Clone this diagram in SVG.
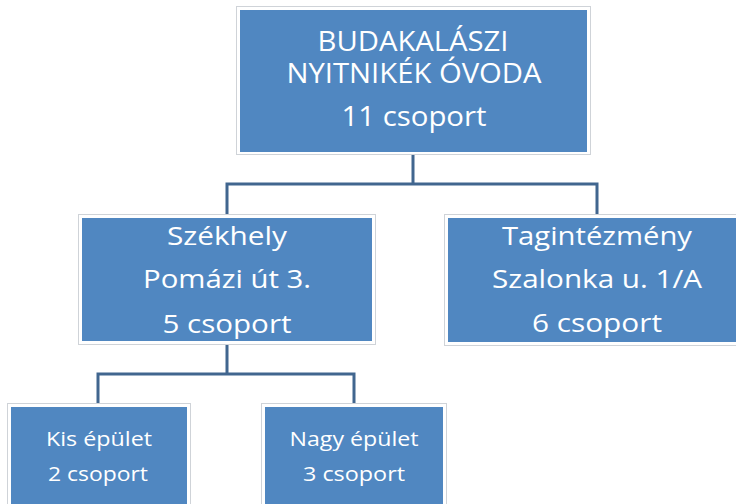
<svg xmlns="http://www.w3.org/2000/svg" width="736" height="504" viewBox="0 0 736 504">
<style>
.frame{fill:#ffffff;stroke:#cfd3d8;stroke-width:1}
.box{fill:#5087c1}
.t{font-family:"Open Sans","Liberation Sans",sans-serif;fill:#ffffff;text-anchor:middle}
.big{font-size:26.5px}
.mid{font-size:25px}
.sm{font-size:20px}
.conn{fill:none;stroke:#41668f;stroke-width:3}
</style>
<g id="connectors">
<path class="conn" d="M413,155 V184 M227,215 V184 H597 V215"/>
<path class="conn" d="M227,344 V374 M98,404 V374 H354 V404"/>
</g>
<g id="root">
<rect class="frame" x="236.5" y="6.5" width="354" height="148"/>
<rect class="box" x="240" y="10" width="347" height="142"/>
<text class="t big" x="413" y="51" textLength="191" lengthAdjust="spacingAndGlyphs">BUDAKALÁSZI</text>
<text class="t big" x="414" y="83" textLength="255" lengthAdjust="spacingAndGlyphs">NYITNIKÉK ÓVODA</text>
<text class="t big" x="414" y="126" textLength="145" lengthAdjust="spacingAndGlyphs">11 csoport</text>
</g>
<g id="szekhely">
<rect class="frame" x="78.5" y="214.5" width="297" height="130"/>
<rect class="box" x="82" y="218" width="290" height="123"/>
<text class="t mid" x="227" y="245" textLength="120" lengthAdjust="spacingAndGlyphs">Székhely</text>
<text class="t mid" x="227" y="288" textLength="168" lengthAdjust="spacingAndGlyphs">Pomázi út 3.</text>
<text class="t mid" x="227" y="333" textLength="129" lengthAdjust="spacingAndGlyphs">5 csoport</text>
</g>
<g id="tagintezmeny">
<rect class="frame" x="444.5" y="214.5" width="305" height="131"/>
<rect class="box" x="448" y="218" width="298" height="124"/>
<text class="t mid" x="597" y="245" textLength="190" lengthAdjust="spacingAndGlyphs">Tagintézmény</text>
<text class="t mid" x="597" y="288" textLength="210" lengthAdjust="spacingAndGlyphs">Szalonka u. 1/A</text>
<text class="t mid" x="597" y="332" textLength="130" lengthAdjust="spacingAndGlyphs">6 csoport</text>
</g>
<g id="kis">
<rect class="frame" x="7.5" y="403.5" width="183" height="110"/>
<rect class="box" x="11" y="407" width="176" height="104"/>
<text class="t sm" x="99" y="446" textLength="106" lengthAdjust="spacingAndGlyphs">Kis épület</text>
<text class="t sm" x="98" y="481" textLength="100" lengthAdjust="spacingAndGlyphs">2 csoport</text>
</g>
<g id="nagy">
<rect class="frame" x="261.5" y="403.5" width="185" height="110"/>
<rect class="box" x="265" y="407" width="178" height="104"/>
<text class="t sm" x="354" y="446" textLength="129" lengthAdjust="spacingAndGlyphs">Nagy épület</text>
<text class="t sm" x="354" y="481" textLength="102" lengthAdjust="spacingAndGlyphs">3 csoport</text>
</g>
</svg>
